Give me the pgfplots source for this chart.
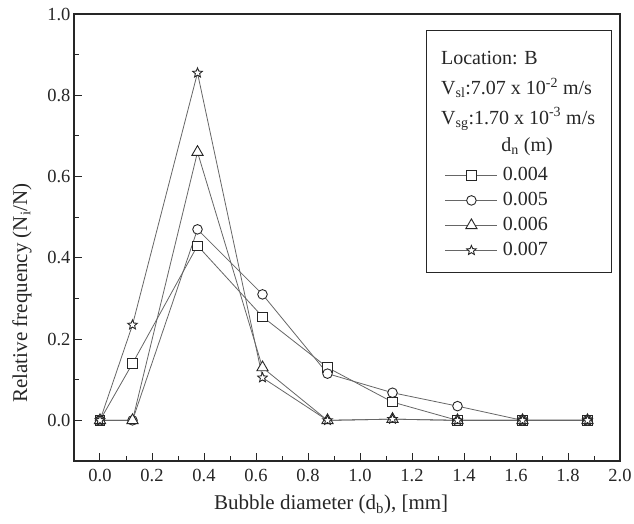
\documentclass[border=0pt]{standalone}
\usepackage{fontspec}
\setmainfont{Liberation Serif}
\usepackage{pgfplots}
\pgfplotsset{compat=1.18}
\pgfdeclareplotmark{ostar}{%
 \pgfpathmoveto{\pgfpointpolar{90}{\pgfplotmarksize}}%
 \pgfpathlineto{\pgfpointpolar{126}{0.45\pgfplotmarksize}}%
 \pgfpathlineto{\pgfpointpolar{162}{\pgfplotmarksize}}%
 \pgfpathlineto{\pgfpointpolar{198}{0.45\pgfplotmarksize}}%
 \pgfpathlineto{\pgfpointpolar{234}{\pgfplotmarksize}}%
 \pgfpathlineto{\pgfpointpolar{270}{0.45\pgfplotmarksize}}%
 \pgfpathlineto{\pgfpointpolar{306}{\pgfplotmarksize}}%
 \pgfpathlineto{\pgfpointpolar{342}{0.45\pgfplotmarksize}}%
 \pgfpathlineto{\pgfpointpolar{18}{\pgfplotmarksize}}%
 \pgfpathlineto{\pgfpointpolar{54}{0.45\pgfplotmarksize}}%
 \pgfpathclose
 \pgfusepathqfillstroke}
\begin{document}
\begin{tikzpicture}
\begin{axis}[
 scale only axis, width=546pt, height=447pt,
 xmin=-0.1, xmax=2.0, ymin=-0.1, ymax=1.0,
 xtick={0,0.2,0.4,0.6,0.8,1.0,1.2,1.4,1.6,1.8,2.0}, minor x tick num=1,
 ytick={0,0.2,0.4,0.6,0.8,1.0}, minor y tick num=1,
 xtick pos=bottom, ytick pos=left,
 tick align=inside, major tick length=8pt, minor tick length=4.5pt,
 every tick/.style={black!85, line width=1pt},
 axis line style={line width=1.3pt, black!85},
 /pgf/number format/assume math mode=true,
 xticklabel style={/pgf/number format/fixed, /pgf/number format/fixed zerofill, /pgf/number format/precision=1, yshift=-5pt},
 yticklabel style={/pgf/number format/fixed, /pgf/number format/fixed zerofill, /pgf/number format/precision=1},
 tick label style={font=\fontsize{18.5}{21}\selectfont, black!85},
 label style={font=\fontsize{21}{24}\selectfont, black!85},
 xlabel={Bubble diameter (d\textsubscript{b}), [mm]},
 ylabel={Relative frequency (N\textsubscript{i}/N)},
 xlabel style={at={(axis description cs:0.471,-0.1096)}, anchor=base},
 ylabel style={at={(axis description cs:-0.0952,0.376)}, anchor=center, rotate=0},
 legend style={draw=none, fill=none, at={(axis description cs:0.6795,0.659)}, anchor=north west,
   inner sep=0pt, outer sep=0pt, font=\fontsize{20}{22}\selectfont, text=black!85,
   row sep=7pt, column sep=5pt, nodes={inner sep=0pt, text height=14pt, text depth=4pt}},
 legend cell align=left,
 legend image code/.code={\draw[#1, mark=none] (0pt,0pt) -- (52pt,0pt); \draw[#1, only marks] plot coordinates {(26pt,0pt)};},
 every axis plot/.append style={black!60, line width=0.8pt, mark options={draw=black!85, fill=white, line width=0.9pt, solid}},
]
\coordinate (sw) at (rel axis cs:0,0);
\coordinate (ne) at (rel axis cs:1,1);
\addplot[mark=square*, mark size=4.6pt] coordinates {(0,0) (0.125,0.14) (0.375,0.43) (0.625,0.255) (0.875,0.13) (1.125,0.045) (1.375,0) (1.625,0) (1.875,0)};
\addlegendentry{0.004}
\addplot[mark=*, mark size=4.8pt] coordinates {(0,0) (0.125,0) (0.375,0.47) (0.625,0.31) (0.875,0.115) (1.125,0.068) (1.375,0.035) (1.625,0) (1.875,0)};
\addlegendentry{0.005}
\addplot[mark=triangle*, mark size=6.5pt] coordinates {(0,0) (0.125,0) (0.375,0.66) (0.625,0.13) (0.875,0) (1.125,0.003) (1.375,0) (1.625,0) (1.875,0)};
\addlegendentry{0.006}
\addplot[mark=ostar, mark size=5pt] coordinates {(0,0) (0.125,0.235) (0.375,0.855) (0.625,0.105) (0.875,0) (1.125,0.003) (1.375,0) (1.625,0) (1.875,0)};
\addlegendentry{0.007}
\draw[line width=1pt, black!85] (rel axis cs:0.6465,0.964) rectangle (rel axis cs:0.985,0.4206);
\node[anchor=west, inner sep=0pt, font=\fontsize{20}{22}\selectfont, text=black!85] at (rel axis cs:0.672,0.9016) {Location: B};
\node[anchor=west, inner sep=0pt, font=\fontsize{20}{22}\selectfont, text=black!85] at (rel axis cs:0.672,0.8345) {V\textsubscript{sl}:7.07 x 10\textsuperscript{-2} m/s};
\node[anchor=west, inner sep=0pt, font=\fontsize{20}{22}\selectfont, text=black!85] at (rel axis cs:0.672,0.765) {V\textsubscript{sg}:1.70 x 10\textsuperscript{-3} m/s};
\node[inner sep=0pt, font=\fontsize{20}{22}\selectfont, text=black!85] at (rel axis cs:0.83,0.7025) {d\textsubscript{n} (m)};
\end{axis}
\pgfresetboundingbox
\path ([xshift=-74pt,yshift=-63pt]sw) rectangle ([xshift=14pt,yshift=14pt]ne);
\end{tikzpicture}
\end{document}
